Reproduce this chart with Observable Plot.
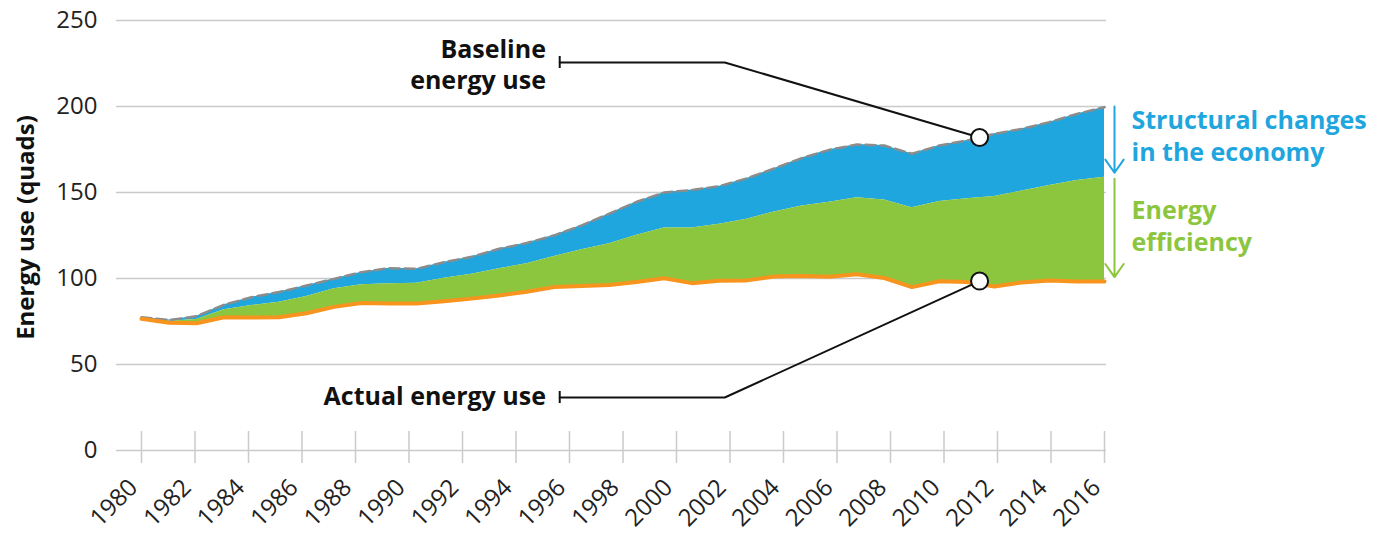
<!DOCTYPE html>
<html>
<head>
<meta charset="utf-8">
<script src="https://cdn.jsdelivr.net/npm/d3@7"></script>
<script src="https://cdn.jsdelivr.net/npm/@observablehq/plot@0.6"></script>
<style>
  html, body { margin: 0; padding: 0; background: #fff; }
  #chart svg { display: block; }
</style>
</head>
<body>
<div id="chart"></div>
<script>
// ---- Data ----
const years = d3.range(1981, 2017); // 36 plotted points
const actual = [76.6, 74.3, 74.0, 77.5, 77.3, 77.5, 79.8, 83.5, 85.7, 85.4, 85.4, 86.8,
  88.3, 90.1, 92.3, 95.0, 95.7, 96.2, 98.0, 100.1, 97.3, 98.7, 98.9, 101.2,
  101.5, 101.0, 102.5, 100.3, 95.0, 98.4, 97.9, 95.4, 97.7, 98.9, 98.3, 98.3];
const efficiency = [76.6, 75.2, 76.2, 81.8, 84.3, 86.2, 89.5, 94.0, 96.3, 96.9, 97.3, 100.2,
  102.5, 105.6, 108.6, 112.8, 116.7, 120.2, 125.1, 129.4, 129.4, 131.5, 134.4, 138.7,
  142.2, 144.4, 146.9, 145.7, 141.1, 144.8, 146.3, 147.7, 150.8, 154.1, 157.0, 158.9];
const baseline = [77.5, 75.8, 78.1, 84.7, 89.1, 92.1, 95.9, 99.8, 103.7, 106.0, 105.6, 109.5,
  112.6, 117.3, 120.6, 125.1, 130.9, 137.7, 144.6, 150.0, 151.4, 153.7, 158.2, 164.0,
  170.0, 174.8, 177.9, 177.3, 172.5, 177.3, 180.2, 184.1, 187.0, 190.9, 195.7, 199.6];

const yTicks = [0, 50, 100, 150, 200, 250];
const xTickLabels = d3.range(1980, 2017, 2);

const callouts = [
  {id: "baseline", label: "Baseline\nenergy use", textYear: 1995.7, textValue: 224.7,
   capYear: 1996.2, kneeYear: 2002.2, lineValue: 225.6, pointYear: 2011.46, pointValue: 182},
  {id: "actual", label: "Actual energy use", textYear: 1995.7, textValue: 32,
   capYear: 1996.2, kneeYear: 2002.2, lineValue: 30.8, pointYear: 2011.46, pointValue: 98.5}
];

const brackets = [
  {label: "Structural changes\nin the economy", color: "#1fa6de", top: 200, bottom: 161.5, labelValue: 183.7},
  {label: "Energy\nefficiency", color: "#8cc63f", top: 158, bottom: 100.8, labelValue: 131.1}
];

// ---- Build tables ----
const rows = years.map((year, i) => ({year, actual: actual[i], efficiency: efficiency[i], baseline: baseline[i]}));
// year labels are spread evenly across the plotted span
const labelX = d3.scaleLinear([1980, 2016], [1981, 2016]);
const ticks = xTickLabels.map(label => ({label, x: labelX(label)}));
const leaders = callouts.flatMap(c => [
  {id: c.id, x: c.capYear, y: c.lineValue},
  {id: c.id, x: c.kneeYear, y: c.lineValue},
  {id: c.id, x: c.pointYear, y: c.pointValue}
]);

const font = "'Open Sans', Lato, sans-serif";

const chart = Plot.plot({
  width: 1385,
  height: 533,
  marginLeft: 141,
  marginRight: 281,
  marginTop: 20,
  marginBottom: 83,
  x: {domain: [1981, 2016], axis: null},
  y: {domain: [0, 250], axis: null},
  color: {type: "identity"},
  style: {fontFamily: font, background: "#fff", overflow: "visible"},
  marks: [
    Plot.ruleY(yTicks, {y: d => d, stroke: "#cacaca", strokeWidth: 1.5, insetLeft: -25, insetRight: -2}),
    Plot.ruleX(ticks, {x: "x", y1: () => -7.5, y2: () => 11, stroke: "#cacaca", strokeWidth: 1.5}),
    Plot.area(rows, {x1: "year", y1: "efficiency", y2: "baseline", fill: "#1fa6de"}),
    Plot.area(rows, {x1: "year", y1: "actual", y2: "efficiency", fill: "#8cc63f"}),
    Plot.line(rows, {x: "year", y: "baseline", stroke: "#8c8c8c", strokeWidth: 2.5, strokeDasharray: "10,5"}),
    Plot.line(rows, {x: "year", y: "actual", stroke: "#f7941d", strokeWidth: 4}),
    // y tick labels
    Plot.text(yTicks, {y: d => d, text: d => String(d), frameAnchor: "left", dx: -44,
      textAnchor: "end", fontSize: 24, fill: "#222"}),
    // x tick labels
    Plot.text(ticks, {x: "x", y: () => 0, text: d => String(d.label), rotate: -45, textAnchor: "end",
      dx: -8, dy: 33, fontSize: 24, fill: "#222"}),
    // y axis title
    Plot.text(["Energy use (quads)"], {frameAnchor: "left", dx: -115, dy: -8, rotate: -90,
      textAnchor: "middle", fontWeight: 700, fontSize: 24, fill: "#111"}),
    // callouts
    Plot.line(leaders, {x: "x", y: "y", z: "id", stroke: "#111", strokeWidth: 2}),
    Plot.ruleX(callouts, {x: "capYear", y1: d => d.lineValue - 3.5, y2: d => d.lineValue + 3.5, stroke: "#111", strokeWidth: 2}),
    Plot.dot(callouts, {x: "pointYear", y: "pointValue", r: 8.5, fill: "#fff", stroke: "#111", strokeWidth: 2}),
    Plot.text(callouts, {x: "textYear", y: "textValue", text: "label", textAnchor: "end",
      fontWeight: 700, fontSize: 25, lineHeight: 1.24, fill: "#111"}),
    // right-side brackets
    Plot.arrow(brackets, {x1: () => 2016, x2: () => 2016, y1: "top", y2: "bottom", dx: 10,
      stroke: "color", strokeWidth: 2, headLength: 12, headAngle: 70}),
    Plot.text(brackets, {x: () => 2016, y: "labelValue", dx: 27, text: "label", textAnchor: "start",
      fill: "color", fontWeight: 700, fontSize: 25, lineHeight: 1.28})
  ]
});

document.getElementById("chart").appendChild(chart);
</script>
</body>
</html>
